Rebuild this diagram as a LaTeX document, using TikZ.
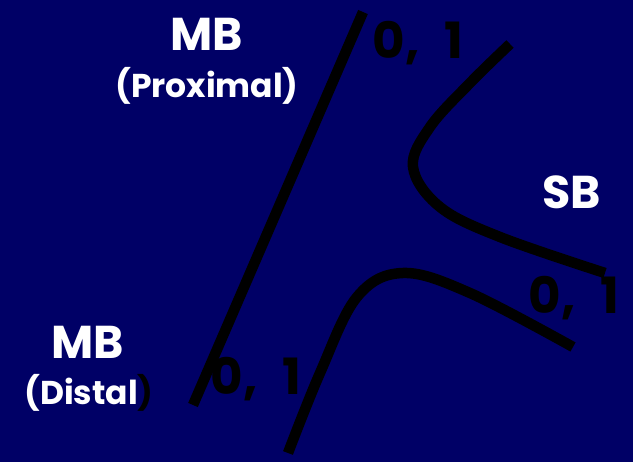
\documentclass[tikz,border=0pt]{standalone}
\usepackage{fontspec}
\setmainfont{Poppins}
\definecolor{slidebg}{RGB}{0,0,102}
\begin{document}
\begin{tikzpicture}[x=1pt,y=-1pt,
  bond/.style={line width=10.5pt,black},
  bigname/.style={text=white,font=\bfseries\fontsize{46}{46}\selectfont,inner sep=0pt},
  subname/.style={text=white,font=\bfseries\fontsize{33}{33}\selectfont,inner sep=0pt},
  prob/.style={text=black,font=\bfseries\fontsize{50}{50}\selectfont,inner sep=0pt}]
  % background
  \fill[slidebg] (0,0) rectangle (633,462);
  \useasboundingbox (0,0) rectangle (633,462);

  % straight MB edge
  \coordinate (mbtop) at (363,12);
  \coordinate (mbbot) at (193,405);
  \draw[bond] (mbbot) -- (mbtop);

  % upper SB branch
  \draw[bond] plot[smooth,tension=0.6] coordinates
    {(510,44) (470,83) (430,127) (413,167) (440,207) (500,237) (605,273)};

  % lower branch
  \draw[bond] plot[smooth,tension=0.6] coordinates
    {(288,453) (320,373) (357,297) (403,273) (470,293) (573,347)};

  % labels
  \node[bigname] (mbp) at (207,34) {MB};
  \node[subname] (prox) at (207,86) {(Proximal)};
  \node[bigname] (mbd) at (88,342) {MB};
  \node[subname] (dist) at (89,393) {(Distal\textcolor{black}{)}};
  \node[bigname] (sb) at (572,192) {SB};

  \node[prob] (ptop) at (418,43) {0,\hspace{0.5em}1};
  \node[prob] (pbot) at (256,379) {0,\hspace{0.5em}1};
  \node[prob] (pright) at (574,298) {0,\hspace{0.5em}1};
\end{tikzpicture}
\end{document}
